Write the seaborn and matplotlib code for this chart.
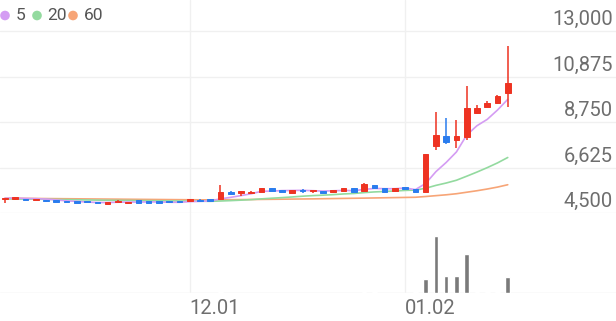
import numpy as np
import pandas as pd
import matplotlib
matplotlib.use("Agg")
import matplotlib.pyplot as plt
import matplotlib.transforms as mtransforms
import seaborn as sns

# ---------------- data ----------------
opens = [5170, 5140, 5160, 5120, 5110, 5090, 5060, 5050, 5060, 5010,
         4940, 5020, 4990, 5100, 5060, 5040, 5060, 5070, 5060, 5130,
         5150, 5140, 5500, 5420, 5430, 5500, 5650, 5570, 5450, 5560,
         5520, 5530, 5460, 5540, 5680, 5540, 5810, 5650, 5540, 5730,
         5610, 5495, 7630, 8110, 7910, 8060, 9160, 9460, 9620, 10120]
highs = [5215, 5240, 5170, 5175, 5115, 5095, 5065, 5055, 5065, 5015,
         5005, 5085, 5035, 5105, 5065, 5045, 5065, 5075, 5145, 5135,
         5155, 5800, 5505, 5545, 5510, 5655, 5655, 5575, 5575, 5610,
         5575, 5535, 5575, 5655, 5685, 5900, 5815, 5655, 5655, 5735,
         5615, 7240, 9230, 8920, 8840, 10440, 9540, 9730, 10010, 12300]
lows = [4980, 5130, 5090, 5115, 5035, 5015, 4995, 4985, 4995, 4945,
        4900, 5015, 4940, 4985, 4985, 4985, 5005, 5015, 5055, 5055,
        5075, 5135, 5375, 5310, 5420, 5495, 5535, 5495, 5445, 5450,
        5450, 5445, 5440, 5535, 5465, 5520, 5685, 5495, 5535, 5635,
        5475, 5490, 7440, 7720, 7520, 7910, 9120, 9440, 9600, 9460]
closes = [5210, 5230, 5100, 5170, 5040, 5020, 5000, 4990, 5000, 4950,
          5000, 5080, 5030, 4990, 4990, 4990, 5010, 5020, 5140, 5060,
          5080, 5500, 5380, 5540, 5500, 5650, 5540, 5500, 5570, 5530,
          5570, 5450, 5570, 5650, 5470, 5860, 5690, 5500, 5650, 5640,
          5480, 7240, 8140, 7800, 8100, 9420, 9420, 9620, 9980, 10590]
volumes = [2, 2, 1, 1, 2, 1, 1, 1, 1, 2,
           2, 1, 1, 2, 1, 1, 1, 1, 2, 1,
           2, 10, 3, 3, 2, 3, 2, 2, 2, 2,
           2, 2, 2, 3, 2, 6, 8, 3, 3, 3,
           8, 140, 570, 170, 170, 390, 15, 15, 15, 160]
ma5 = [5190, 5200, 5180, 5170, 5150, 5112, 5066, 5044, 5010, 4992,
       4988, 5004, 5012, 5010, 5018, 5016, 5002, 5000, 5030, 5044,
       5062, 5160, 5232, 5312, 5400, 5514, 5522, 5546, 5552, 5558,
       5542, 5524, 5538, 5554, 5542, 5600, 5648, 5634, 5634, 5668,
       5592, 5880, 6431, 6861, 7352, 8140, 8576, 8872, 9308, 9806]
ma20 = [5160, 5155, 5150, 5145, 5140, 5132, 5125, 5118, 5110, 5102,
        5095, 5090, 5085, 5080, 5075, 5070, 5065, 5060, 5055, 5051,
        5045, 5060, 5078, 5100, 5125, 5160, 5190, 5218, 5250, 5285,
        5312, 5332, 5358, 5390, 5412, 5452, 5484, 5505, 5528, 5555,
        5572, 5655, 5790, 5900, 6030, 6218, 6412, 6618, 6839, 7092]
ma60 = [5190, 5186, 5182, 5178, 5174, 5170, 5166, 5162, 5158, 5154,
        5150, 5146, 5142, 5138, 5134, 5130, 5126, 5122, 5118, 5115,
        5115, 5118, 5122, 5126, 5130, 5135, 5140, 5145, 5150, 5155,
        5160, 5167, 5174, 5181, 5188, 5195, 5203, 5211, 5219, 5227,
        5235, 5270, 5310, 5350, 5400, 5470, 5540, 5620, 5710, 5820]
price_ticks = [4500, 6625, 8750, 10875, 13000]
price_tick_labels = ["4,500", "6,625", "8,750", "10,875", "13,000"]
date_index = [18, 39]
date_labels = ["12.01", "01.02"]
ma_names = ["5", "20", "60"]

# ---------------- style ----------------
RED = "#ee3322"
BLUE = "#2a7cee"
MA_COLORS = ["#d49cf3", "#93da9f", "#f7a577"]
GRID = "#f0f0f0"
TXT = "#6e6e6e"

sns.set_theme(style="white")
plt.rcParams["font.family"] = ["Roboto", "DejaVu Sans"]

W, H = 616, 321
fig = plt.figure(figsize=(W / 100, H / 100), dpi=100)
fig.patch.set_facecolor("white")

# pixel layout
x0_px, step_px = 5.0, 10.26
xlim = (-x0_px / step_px, (W - x0_px) / step_px)
price_bottom_px = 213
vol_bottom_px = 293
ppx = (13000 - 4500) / (213 - 31)  # price per pixel

ax_p = fig.add_axes([0, 1 - price_bottom_px / H, 1, price_bottom_px / H])
ax_v = fig.add_axes([0, 1 - vol_bottom_px / H, 1, (vol_bottom_px - price_bottom_px) / H])
for ax in (ax_p, ax_v):
    ax.set_xlim(*xlim)
    ax.set_facecolor("none")
    for s in ax.spines.values():
        s.set_visible(False)
    ax.set_xticks([])
    ax.set_yticks([])

ax_p.set_ylim(4500, 4500 + price_bottom_px * ppx)
ax_v.set_ylim(0, (vol_bottom_px - price_bottom_px) * 10.0)

df = pd.DataFrame({"i": np.arange(len(closes)), "open": opens, "high": highs,
                   "low": lows, "close": closes, "vol": volumes,
                   "ma5": ma5, "ma20": ma20, "ma60": ma60})

# grid
for p in price_ticks:
    ax_p.axhline(p, color=GRID, lw=1.0, zorder=0)
ax_v.axhline(0, color="#e6e6e6", lw=1.0, zorder=0)
for i in date_index:
    ax_p.axvline(i, color=GRID, lw=1.0, zorder=0)
    ax_v.axvline(i, color=GRID, lw=1.0, zorder=0)

# moving averages
for col, c in zip(["ma60", "ma20", "ma5"], MA_COLORS[::-1]):
    sns.lineplot(data=df, x="i", y=col, ax=ax_p, color=c, lw=1.2, zorder=2)
ax_p.set_xlabel("")
ax_p.set_ylabel("")

# candles
up = df["close"] >= df["open"]
colors = np.where(up, RED, BLUE)
body_bottom = np.minimum(df["open"], df["close"])
body_h = np.abs(df["close"] - df["open"])
ax_p.vlines(df["i"], df["low"], df["high"], colors=colors, lw=1.3, alpha=0.85, zorder=3)
ax_p.bar(df["i"], body_h, bottom=body_bottom, width=0.55, color=colors,
         edgecolor=colors, linewidth=0.7, zorder=4)
ax_p.set_xlim(*xlim)

# volume
ax_v.bar(df["i"], df["vol"], width=0.45, color="#7a7a7a", zorder=2)
ax_v.set_xlim(*xlim)

# price labels (right side, above gridlines)
tr_p = mtransforms.blended_transform_factory(ax_p.transAxes, ax_p.transData)
tr_p = mtransforms.offset_copy(tr_p, fig=fig, x=-3, y=6, units="dots")
for p, lab in zip(price_ticks, price_tick_labels):
    ax_p.text(1.0, p, lab, transform=tr_p, ha="right", va="baseline",
              fontsize=14.5, color=TXT)

# date labels
tr_v = mtransforms.blended_transform_factory(ax_v.transData, ax_v.transAxes)
tr_v = mtransforms.offset_copy(tr_v, fig=fig, x=0, y=-21, units="dots")
for i, lab in zip(date_index, date_labels):
    ax_v.text(i, 0, lab, transform=tr_v, ha="left", va="baseline",
              fontsize=14.5, color=TXT, clip_on=False)

# legend (top-left)
ax_o = fig.add_axes([0, 0, 1, 1])
ax_o.set_xlim(0, W)
ax_o.set_ylim(H, 0)
ax_o.axis("off")
leg_x = [5, 37, 73]
for x, name, c in zip(leg_x, ma_names, MA_COLORS):
    ax_o.scatter([x], [15.5], s=48, color=c, edgecolor="none")
    ax_o.text(x + 10.5, 15.5, name, ha="left", va="center", fontsize=12.5, color="#555555")

fig.savefig("out.png", dpi=100)
